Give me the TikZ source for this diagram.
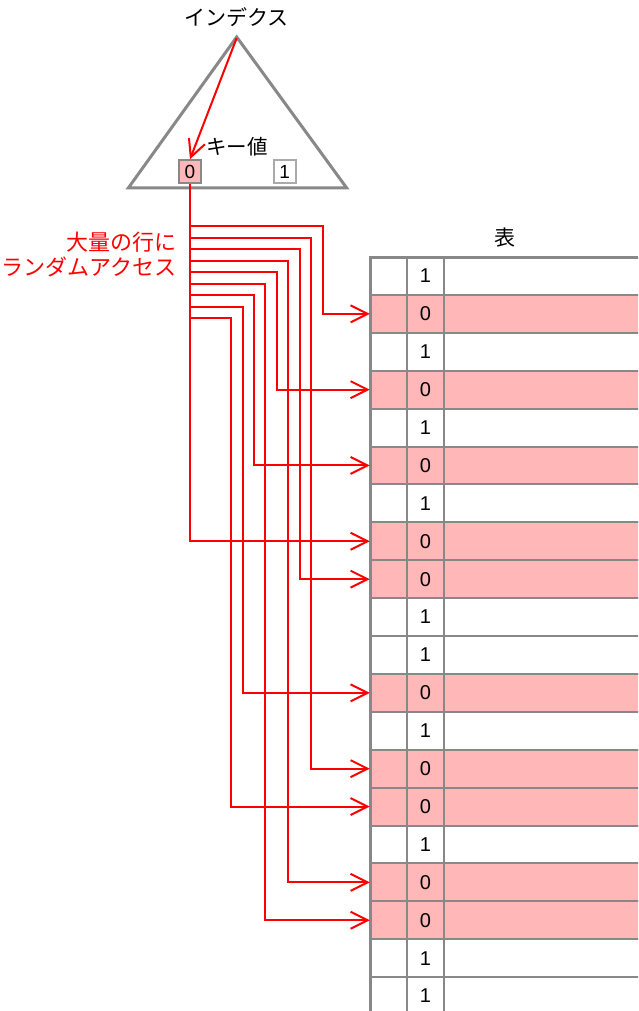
\documentclass[tikz,border=0pt]{standalone}
\usepackage{fontspec}
\setmainfont{Noto Sans CJK JP}
\newfontfamily\digitfont{Liberation Sans}
\usetikzlibrary{arrows.meta,calc}
\definecolor{hlpink}{RGB}{255,183,183}
\definecolor{tgray}{RGB}{136,136,136}
\definecolor{kgray}{RGB}{170,170,170}
\definecolor{lred}{RGB}{255,0,0}
\tikzset{
  redline/.style={draw=lred,line width=2pt},
  redarrow/.style={redline,-{Straight Barb[length=17pt,width=17pt,line width=2pt]}},
  jptext/.style={inner sep=0pt,font=\fontsize{21}{25}\selectfont},
  redtext/.style={inner sep=0pt,text=lred,anchor=east,font=\fontsize{22}{26}\selectfont},
  cellbox/.style={minimum width=37pt,minimum height=37.9pt,inner sep=0pt,draw=none,font=\digitfont\fontsize{20}{24}\selectfont},
  keybox/.style={minimum width=22pt,minimum height=23pt,inner sep=0pt,line width=2pt,font=\digitfont\fontsize{19}{20}\selectfont}
}
\begin{document}
\begin{tikzpicture}[x=1pt,y=-1pt]
\useasboundingbox (0,0) rectangle (638,1011);
\clip (0,0) rectangle (638,1011);
% index triangle
\draw[tgray,line width=3pt,line join=miter,fill=white] (236.7,37) -- (346.7,188) -- (128.3,188) -- cycle;
\coordinate (apex) at (236.7,38);
\node[jptext] (idx) at (236.7,17) {インデクス};
\node[keybox,draw=tgray,fill=hlpink] (k0) at (190,171.7) {0};
\node[keybox,draw=kgray,fill=white] (k1) at (284.6,171.7) {1};
\node[jptext,anchor=west,font=\fontsize{20.5}{24}\selectfont] (keylbl) at (206,147) {キー値};
% table
\node[jptext] (tbl) at (505,238) {表};
\foreach \v [count=\i] in {1,0,1,0,1,0,1,0,0,1,1,0,1,0,0,1,0,0,1,1}{
  \pgfmathsetmacro{\yc}{257+37.9*(\i-0.5)}
  \ifnum\v=0
    \fill[hlpink] (370,{\yc-18.95}) rectangle (640,{\yc+18.95});
  \fi
  \node[cellbox] (c\i) at (388.5,\yc) {};
  \node[cellbox] (d\i) at (425.5,\yc) {\v};
}
\foreach \i in {1,...,20}{
  \draw[tgray,line width=2pt] (370,{257+37.9*\i}) -- (640,{257+37.9*\i});
}
\draw[tgray,line width=2pt] (407,257) -- (407,1020);
\draw[tgray,line width=2pt] (444,257) -- (444,1020);
\draw[tgray,line width=3pt] (640,257) -- (370,257) -- (370,1020);
% red text
\node[redtext] (t1) at (177,242) {大量の行に};
\node[redtext] (t2) at (177,267) {ランダムアクセス};
% arrows
\draw[redarrow] (apex) -- (k0.north);
\draw[redarrow] (k0.south) |- (c8.west);
\foreach \by/\bx/\r in {226/323/2,238/311/14,249/300/9,261/288/17,272/277/4,284/265/18,295/254/6,307/243/12,318/231/15}{
  \coordinate (b\r) at (190,\by);
  \draw[redarrow] (b\r) -- (\bx,\by) |- (c\r.west);
}
\end{tikzpicture}
\end{document}
